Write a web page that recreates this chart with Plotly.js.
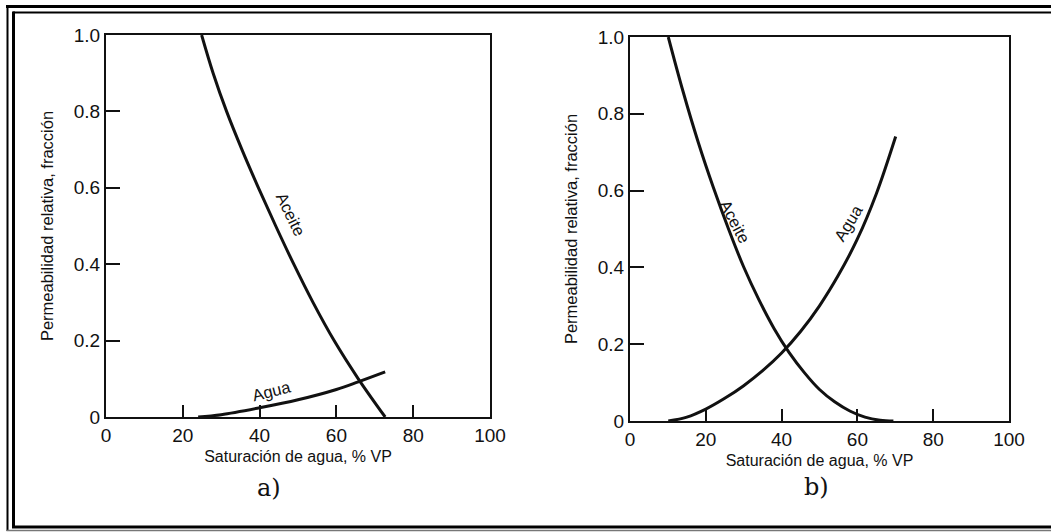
<!DOCTYPE html>
<html>
<head>
<meta charset="utf-8">
<script src="https://cdn.plot.ly/plotly-3.0.1.min.js"></script>
<style>
  html, body { margin: 0; padding: 0; background: #ffffff; }
  #chart { width: 1051px; height: 532px; }
</style>
</head>
<body>
<div id="chart"></div>
<script>
// ---- Data ----
// Panel a)
const oilA_x = [24.9, 27.9, 31.4, 35.4, 39.7, 44.2, 48.9, 53.9, 59.4, 65.7, 72.7];
const oilA_y = [1.0, 0.9, 0.8, 0.7, 0.6, 0.5, 0.4, 0.3, 0.2, 0.1, 0.0];
const watA_x = [24.0, 30.0, 40.0, 50.0, 60.0, 65.7, 72.7];
const watA_y = [0.0, 0.006, 0.024, 0.045, 0.072, 0.092, 0.118];
// Panel b)
const oilB_x = [10.1, 14.0, 18.0, 22.0, 26.0, 30.0, 34.0, 38.0, 42.0, 46.0, 50.0, 54.0, 58.0, 62.0, 66.0, 69.5];
const oilB_y = [1.0, 0.858, 0.726, 0.608, 0.500, 0.401, 0.316, 0.241, 0.178, 0.126, 0.082, 0.050, 0.026, 0.010, 0.002, 0.0];
const watB_x = [10.1, 15.0, 20.0, 25.0, 30.0, 35.0, 40.0, 45.0, 50.0, 55.0, 60.0, 65.0, 70.1];
const watB_y = [0.0, 0.010, 0.031, 0.059, 0.092, 0.131, 0.177, 0.233, 0.300, 0.380, 0.474, 0.592, 0.741];

// Tick labels
const xTickVals = [0, 20, 40, 60, 80, 100];
const xTickText = ["0", "20", "40", "60", "80", "100"];
const yTickVals = [0, 0.2, 0.4, 0.6, 0.8, 1.0];
const yTickText = ["0", "0.2", "0.4", "0.6", "0.8", "1.0"];

// Texts
const xTitle = "Saturación de agua, % VP";
const yTitle = "Permeabilidad relativa, fracción";
const oilLabel = "Aceite";
const waterLabel = "Agua";
const panelLabels = ["a)", "b)"];

// ---- Layout helpers ----
const W = 1051, H = 532;
const px = x => x / W;
const py = y => 1 - y / H;

const ink = "#111111";
const tickFont = { family: "Liberation Sans, Arial, sans-serif", size: 19, color: ink };
const xTitleFont = { family: "Liberation Sans, Arial, sans-serif", size: 16, color: ink };
const yTitleFont = { family: "Liberation Sans, Arial, sans-serif", size: 16.5, color: ink };
const lineStyle = { color: ink, width: 3, shape: "spline", smoothing: 1 };

function xAxis(domain, anchor) {
  return {
    domain: domain, anchor: anchor, range: [0, 100], fixedrange: true,
    tickmode: "array", tickvals: xTickVals, ticktext: xTickText,
    ticks: "inside", ticklen: 12, tickwidth: 2, tickcolor: ink,
    showline: true, linewidth: 2, linecolor: ink, mirror: true,
    showgrid: false, zeroline: false, tickfont: tickFont, automargin: false,
    title: { text: xTitle, font: xTitleFont, standoff: 6 }
  };
}
function yAxis(domain, anchor) {
  return {
    domain: domain, anchor: anchor, range: [0, 1], fixedrange: true,
    tickmode: "array", tickvals: yTickVals, ticktext: yTickText,
    ticks: "inside", ticklen: 14, tickwidth: 2, tickcolor: ink,
    showline: true, linewidth: 2, linecolor: ink, mirror: true,
    showgrid: false, zeroline: false, tickfont: tickFont, automargin: false,
    title: { text: yTitle, font: yTitleFont, standoff: 16 }
  };
}

const traces = [
  { x: oilA_x, y: oilA_y, xaxis: "x", yaxis: "y", mode: "lines", line: lineStyle, name: oilLabel, hoverinfo: "skip" },
  { x: watA_x, y: watA_y, xaxis: "x", yaxis: "y", mode: "lines", line: lineStyle, name: waterLabel, hoverinfo: "skip" },
  { x: oilB_x, y: oilB_y, xaxis: "x2", yaxis: "y2", mode: "lines", line: lineStyle, name: oilLabel, hoverinfo: "skip" },
  { x: watB_x, y: watB_y, xaxis: "x2", yaxis: "y2", mode: "lines", line: lineStyle, name: waterLabel, hoverinfo: "skip" }
];

const labelFont = { family: "Liberation Sans, Arial, sans-serif", size: 16.5, color: ink };
const panelFont = { family: "DejaVu Serif, Liberation Serif, serif", size: 24, color: ink };
const annotations = [
  { xref: "x", yref: "y", x: 47.0, y: 0.53, text: oilLabel, textangle: 64, showarrow: false, font: labelFont, xshift: 5 },
  { xref: "x", yref: "y", x: 43.0, y: 0.068, text: waterLabel, textangle: -14, showarrow: false, font: labelFont },
  { xref: "x2", yref: "y2", x: 26.8, y: 0.52, text: oilLabel, textangle: 62, showarrow: false, font: labelFont, xshift: 3 },
  { xref: "x2", yref: "y2", x: 57.6, y: 0.515, text: waterLabel, textangle: -59, showarrow: false, font: labelFont },
  { xref: "paper", yref: "paper", x: px(269), y: py(488), xanchor: "center", yanchor: "middle",
    text: panelLabels[0], showarrow: false, font: panelFont },
  { xref: "paper", yref: "paper", x: px(816), y: py(487), xanchor: "center", yanchor: "middle",
    text: panelLabels[1], showarrow: false, font: panelFont }
];

// Double frame around the figure
function hline(y, x0, x1, w, c) {
  return { type: "line", xref: "paper", yref: "paper", x0: px(x0), x1: px(x1), y0: py(y), y1: py(y), line: { color: c, width: w } };
}
function vline(x, y0, y1, w, c) {
  return { type: "line", xref: "paper", yref: "paper", x0: px(x), x1: px(x), y0: py(y0), y1: py(y1), line: { color: c, width: w } };
}
const shapes = [
  hline(6.5, 6, W, 3, "#000"),
  hline(12.5, 13, W, 2, "#000"),
  vline(7.5, 5, 531, 2, "#000"),
  vline(13.5, 11.5, 527.5, 3, "#000"),
  hline(527, 12, W, 3, "#000"),
  hline(530.5, 6.5, W, 1.5, "#777")
];

const layout = {
  width: W, height: H,
  margin: { l: 0, r: 0, t: 0, b: 0 },
  paper_bgcolor: "#ffffff", plot_bgcolor: "#ffffff",
  showlegend: false,
  xaxis: xAxis([px(106), px(490)], "y"),
  yaxis: yAxis([py(417), py(35)], "x"),
  xaxis2: xAxis([px(630), px(1009)], "y2"),
  yaxis2: yAxis([py(421), py(37)], "x2"),
  annotations: annotations,
  shapes: shapes
};

Plotly.newPlot("chart", traces, layout, { displayModeBar: false, staticPlot: true });
</script>
</body>
</html>
